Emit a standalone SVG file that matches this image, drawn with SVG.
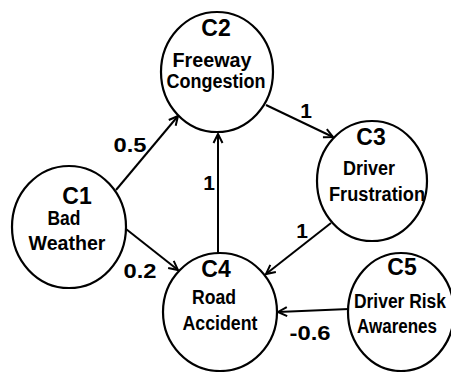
<svg xmlns="http://www.w3.org/2000/svg" width="451" height="372" viewBox="0 0 451 372">
  <style>
    .node { fill: #ffffff; stroke: #000000; stroke-width: 2.2; }
    .edge { stroke: #000000; stroke-width: 2; fill: none; }
    .t { font-family: "Liberation Sans", Arial, sans-serif; font-weight: bold; fill: #000000; text-anchor: middle; }
    .id { font-size: 23px; }
    .lbl { font-size: 19.5px; }
    .w { font-size: 21px; }
  </style>
  <defs>
    <marker id="arrow" markerUnits="userSpaceOnUse" markerWidth="12" markerHeight="12" refX="10" refY="5" orient="auto" viewBox="0 0 12 10">
      <path d="M1,0.5 L10,5 L1,9.5" fill="none" stroke="#000000" stroke-width="2"/>
    </marker>
  </defs>
  <rect width="451" height="372" fill="#ffffff"/>

  <g id="connectors">
    <line class="edge" x1="116" y1="190" x2="178" y2="116" marker-end="url(#arrow)"/>
    <line class="edge" x1="126" y1="229" x2="178" y2="270" marker-end="url(#arrow)"/>
    <line class="edge" x1="218" y1="255" x2="218" y2="134" marker-end="url(#arrow)"/>
    <line class="edge" x1="266" y1="105" x2="333" y2="137" marker-end="url(#arrow)"/>
    <line class="edge" x1="331" y1="223" x2="266" y2="274" marker-end="url(#arrow)"/>
    <line class="edge" x1="349" y1="309" x2="278" y2="312" marker-end="url(#arrow)"/>
    <text class="t w" x="130" y="152" textLength="33" lengthAdjust="spacingAndGlyphs">0.5</text>
    <text class="t w" x="140" y="278" textLength="33" lengthAdjust="spacingAndGlyphs">0.2</text>
    <text class="t w" x="209" y="190">1</text>
    <text class="t w" x="306" y="118">1</text>
    <text class="t w" x="302" y="238">1</text>
    <text class="t w" x="310" y="340" textLength="41" lengthAdjust="spacingAndGlyphs">-0.6</text>
  </g>

  <g id="C1">
    <ellipse class="node" cx="69" cy="227" rx="57" ry="61"/>
    <text class="t id" x="77" y="204">C1</text>
    <text class="t lbl" x="64" y="225" textLength="33" lengthAdjust="spacingAndGlyphs">Bad</text>
    <text class="t lbl" x="67" y="250" textLength="77" lengthAdjust="spacingAndGlyphs">Weather</text>
  </g>

  <g id="C2">
    <ellipse class="node" cx="217" cy="72" rx="56" ry="60"/>
    <text class="t id" x="216" y="36">C2</text>
    <text class="t lbl" x="212" y="67" textLength="79" lengthAdjust="spacingAndGlyphs">Freeway</text>
    <text class="t lbl" x="216" y="88" textLength="99" lengthAdjust="spacingAndGlyphs">Congestion</text>
  </g>

  <g id="C3">
    <ellipse class="node" cx="372" cy="181" rx="55" ry="60"/>
    <text class="t id" x="371" y="145">C3</text>
    <text class="t lbl" x="369" y="175" textLength="52" lengthAdjust="spacingAndGlyphs">Driver</text>
    <text class="t lbl" x="377" y="201" textLength="96" lengthAdjust="spacingAndGlyphs">Frustration</text>
  </g>

  <g id="C4">
    <ellipse class="node" cx="220" cy="312" rx="57" ry="59"/>
    <text class="t id" x="216" y="277">C4</text>
    <text class="t lbl" x="214" y="304" textLength="44" lengthAdjust="spacingAndGlyphs">Road</text>
    <text class="t lbl" x="220" y="330" textLength="75" lengthAdjust="spacingAndGlyphs">Accident</text>
  </g>

  <g id="C5">
    <ellipse class="node" cx="401" cy="312" rx="53" ry="59"/>
    <text class="t id" x="402" y="275">C5</text>
    <text class="t lbl" x="400" y="308" textLength="92" lengthAdjust="spacingAndGlyphs">Driver Risk</text>
    <text class="t lbl" x="397" y="333" textLength="80" lengthAdjust="spacingAndGlyphs">Awarenes</text>
  </g>
</svg>
